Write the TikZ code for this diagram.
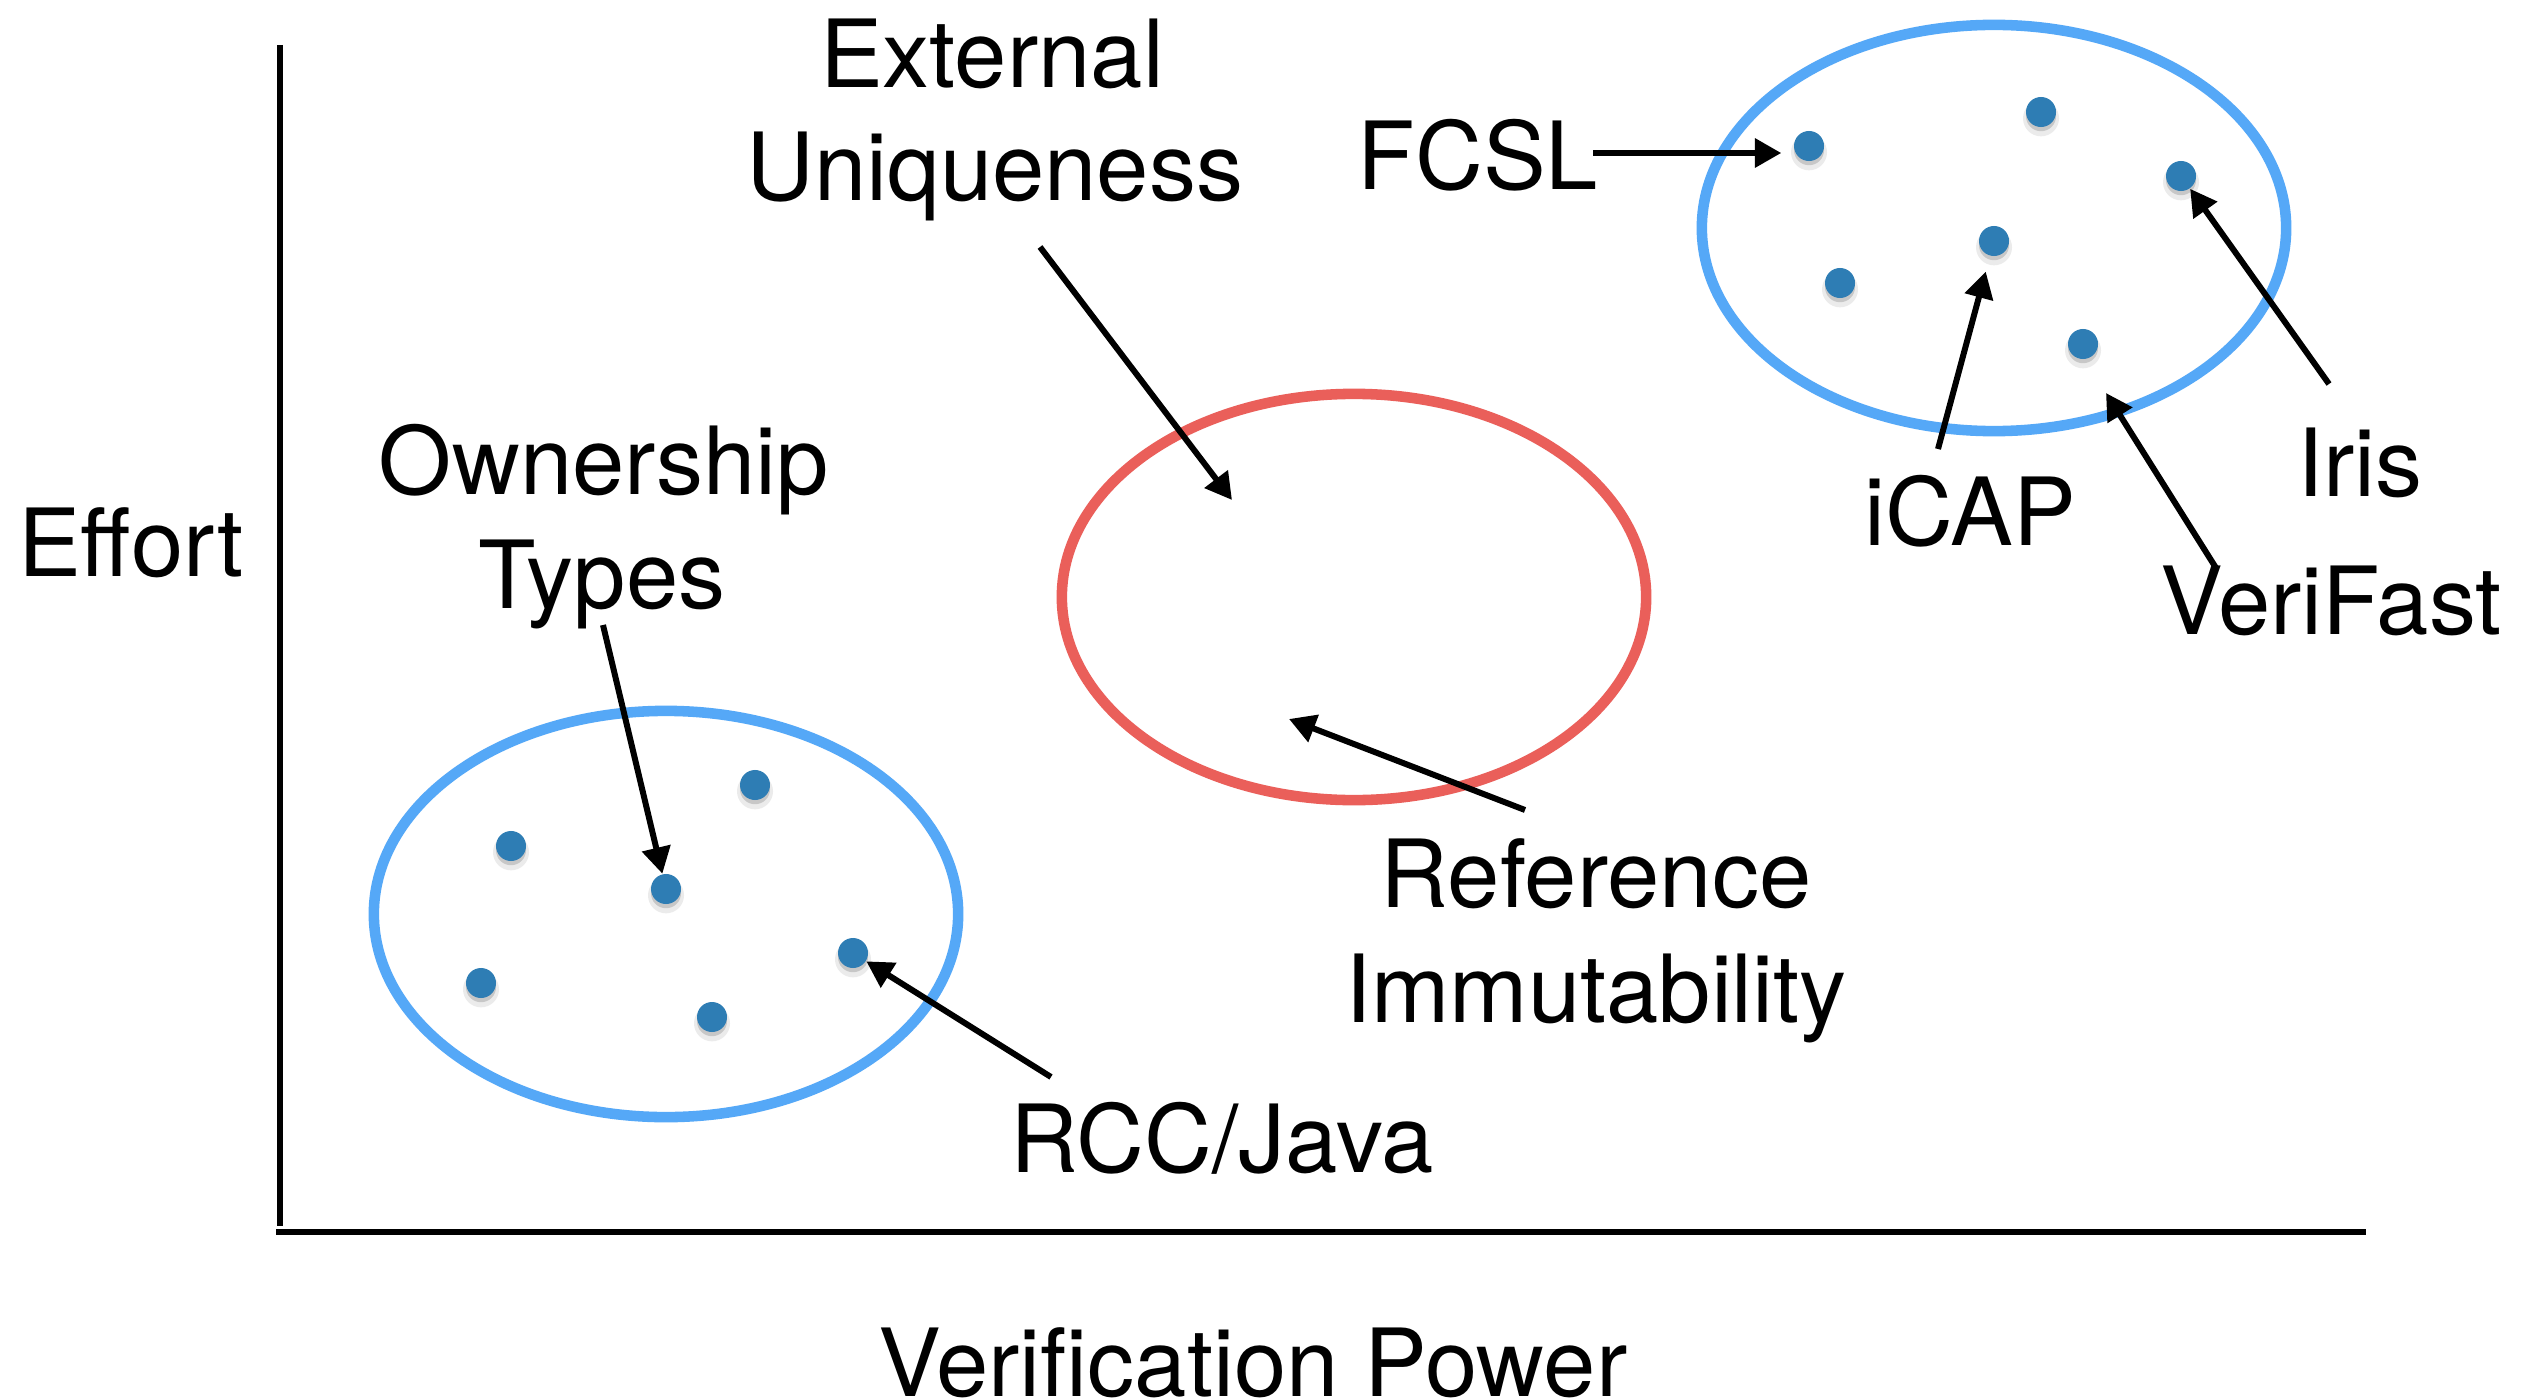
\documentclass[tikz,border=0pt]{standalone}
\usepackage{fontspec}
\setmainfont{TeX Gyre Heros}
\usetikzlibrary{arrows.meta,shapes.geometric,shadows}
\definecolor{groupblue}{HTML}{55A8F7}
\definecolor{groupred}{HTML}{EA5F5A}
\definecolor{dotblue}{HTML}{2E7DB4}

\begin{document}
\begin{tikzpicture}[x=0.01cm,y=-0.01cm,
  lbl/.style={anchor=base,inner sep=0,font=\fontsize{26.75pt}{32pt}\selectfont},
  axisline/.style={line width=1.6pt},
  grp/.style={ellipse,draw,line width=3pt,minimum width=5.84cm,minimum height=4.06cm,inner sep=0},
  pt/.style={circle,fill=dotblue,minimum width=0.29cm,minimum height=0.30cm,inner sep=0,
    general shadow={fill=black,opacity=0.08,shadow scale=1.2,shadow yshift=-1.5pt},
    general shadow={fill=black,opacity=0.15,shadow scale=1.0,shadow yshift=-1.2pt}},
  ptr/.style={line width=1.7pt,-{Triangle[length=7.5pt,width=8pt]}},
]
\useasboundingbox (0,0) rectangle (2536,1400);
\fill[white] (0,0) rectangle (2536,1400);

% axes
\coordinate (yTop) at (280,45);
\coordinate (yBot) at (280,1226);
\coordinate (xLeft) at (276,1232);
\coordinate (xRight) at (2366,1232);
\draw[axisline] (yTop) -- (yBot);
\draw[axisline] (xLeft) -- (xRight);

% groups
\node[grp,draw=groupblue] (grpLow) at (666,914) {};
\node[grp,draw=groupred] (grpMid) at (1354,597) {};
\node[grp,draw=groupblue] (grpHigh) at (1994,228) {};

% systems in the low group
\node[pt] (d1) at (511,846) {};
\node[pt] (d2) at (755,785) {};
\node[pt] (d3) at (666,889) {};
\node[pt] (d4) at (853,953) {};
\node[pt] (d5) at (481,983) {};
\node[pt] (d6) at (712,1017) {};

% systems in the high group
\node[pt] (e1) at (1809,146) {};
\node[pt] (e2) at (2041,112) {};
\node[pt] (e3) at (2181,176) {};
\node[pt] (e4) at (1994,241) {};
\node[pt] (e5) at (1840,283) {};
\node[pt] (e6) at (2083,344) {};

% labels
\node[lbl] (effort) at (131,576) {Effort};
\node[lbl] (power) at (1253,1396) {Verification Power};
\node[lbl] (extA) at (992,88) {External};
\node[lbl] (extB) at (995,201) {Uniqueness};
\node[lbl] (ownA) at (604,494) {Ownership};
\node[lbl] (ownB) at (602,608) {Types};
\node[lbl] (fcsl) at (1478,190) {FCSL};
\node[lbl] (icap) at (1970,545) {iCAP};
\node[lbl] (iris) at (2360,496) {Iris};
\node[lbl] (verifast) at (2331,634) {VeriFast};
\node[lbl] (refA) at (1596,907) {Reference};
\node[lbl] (refB) at (1596,1022) {Immutability};
\node[lbl] (rcc) at (1222,1172) {RCC/Java};

% pointer ends
\coordinate (ownStart) at (603,625);
\coordinate (rccStart) at (1051,1077);
\coordinate (extStart) at (1040,247);
\coordinate (extTip) at (1232,500);
\coordinate (refStart) at (1525,810);
\coordinate (refTip) at (1289,719);
\coordinate (fcslStart) at (1593,153);
\coordinate (icapStart) at (1938,449);
\coordinate (irisStart) at (2329,384);
\coordinate (vfStart) at (2216,568);
\coordinate (vfTip) at (2106,393);

% pointers
\draw[ptr] (ownStart) -- (d3);
\draw[ptr] (rccStart) -- (d4);
\draw[ptr] (extStart) -- (extTip);
\draw[ptr] (refStart) -- (refTip);
\draw[ptr,shorten >=0.12cm] (fcslStart) -- (fcslStart -| e1.west);
\draw[ptr,shorten >=0.16cm] (icapStart) -- (e4);
\draw[ptr] (irisStart) -- (e3);
\draw[ptr] (vfStart) -- (vfTip);
\end{tikzpicture}
\end{document}
